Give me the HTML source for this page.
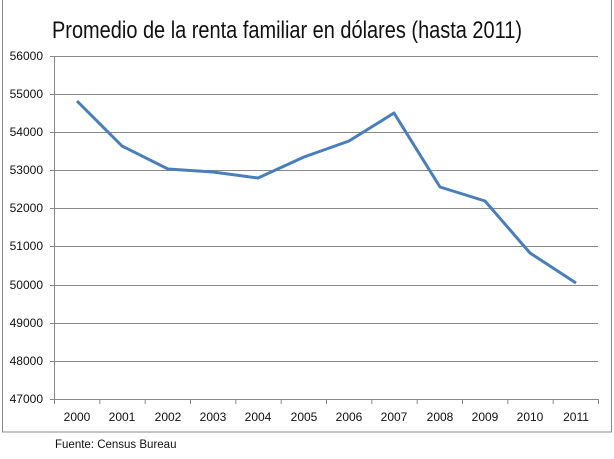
<!DOCTYPE html><html><head><style>body{margin:0;background:#fff}</style></head><body>
<svg width="614" height="454" xmlns="http://www.w3.org/2000/svg" font-family="Liberation Sans, DejaVu Sans, sans-serif">
<rect x="2.5" y="-1" width="609" height="433" fill="#fff" stroke="#888"/>
<text x="52" y="38" font-size="24" textLength="470" lengthAdjust="spacingAndGlyphs" fill="#111">Promedio de la renta familiar en dólares (hasta 2011)</text>
<g stroke="#888" stroke-width="1">
<line x1="54" x2="598" y1="56.5" y2="56.5"/><line x1="54" x2="598" y1="94.5" y2="94.5"/><line x1="54" x2="598" y1="132.5" y2="132.5"/><line x1="54" x2="598" y1="170.5" y2="170.5"/><line x1="54" x2="598" y1="208.5" y2="208.5"/><line x1="54" x2="598" y1="246.5" y2="246.5"/><line x1="54" x2="598" y1="285.5" y2="285.5"/><line x1="54" x2="598" y1="323.5" y2="323.5"/><line x1="54" x2="598" y1="361.5" y2="361.5"/><line x1="50" x2="598" y1="399.5" y2="399.5"/>
<line x1="54.5" x2="54.5" y1="56" y2="400"/>
<line x1="50" x2="54" y1="56.5" y2="56.5"/><line x1="50" x2="54" y1="94.5" y2="94.5"/><line x1="50" x2="54" y1="132.5" y2="132.5"/><line x1="50" x2="54" y1="170.5" y2="170.5"/><line x1="50" x2="54" y1="208.5" y2="208.5"/><line x1="50" x2="54" y1="246.5" y2="246.5"/><line x1="50" x2="54" y1="285.5" y2="285.5"/><line x1="50" x2="54" y1="323.5" y2="323.5"/><line x1="50" x2="54" y1="361.5" y2="361.5"/>
<path d="M54.5 399v5M99.8 399v5M145.2 399v5M190.5 399v5M235.8 399v5M281.2 399v5M326.5 399v5M371.8 399v5M417.2 399v5M462.5 399v5M507.8 399v5M553.2 399v5M598.5 399v5"/>
</g>
<g font-size="12" fill="#111" text-anchor="end">
<text x="43" y="60">56000</text><text x="43" y="98">55000</text><text x="43" y="136">54000</text><text x="43" y="174">53000</text><text x="43" y="212">52000</text><text x="43" y="250">51000</text><text x="43" y="289">50000</text><text x="43" y="327">49000</text><text x="43" y="365">48000</text><text x="43" y="403">47000</text>
</g>
<g font-size="12" fill="#111" text-anchor="middle">
<text x="77" y="421">2000</text><text x="122" y="421">2001</text><text x="168" y="421">2002</text><text x="213" y="421">2003</text><text x="258" y="421">2004</text><text x="304" y="421">2005</text><text x="349" y="421">2006</text><text x="394" y="421">2007</text><text x="440" y="421">2008</text><text x="485" y="421">2009</text><text x="530" y="421">2010</text><text x="576" y="421">2011</text>
</g>
<polyline fill="none" stroke="#4a7ebb" stroke-width="3" stroke-linejoin="round" points="77,101 122,146 168,169 213,172 258,178 304,157 349,141 394,113 440,187 485,201 530,253 576,283"/>
<text x="55" y="448" font-size="11.5" fill="#111">Fuente: Census Bureau</text>
</svg>
</body></html>
